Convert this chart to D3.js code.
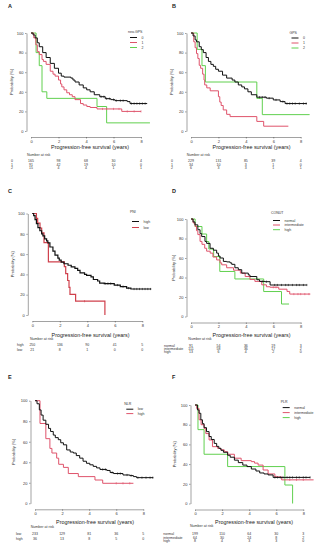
<!DOCTYPE html>
<html>
<head>
<meta charset="utf-8">
<script src="https://cdn.jsdelivr.net/npm/d3@7"></script>
<style>
  body { margin: 0; background: #fff; }
  svg { display: block; font-family: "Liberation Sans", Arial, sans-serif; }
</style>
</head>
<body>
<svg width="320" height="550"></svg>
<script>
// shared ticks
var xTicks = [0, 2, 4, 6, 8];
var yTicks = [0, 20, 40, 60, 80, 100];
var riskTimes = [0, 2, 4, 6, 8];

// A: neo-GPS
var groupsA = ['0', '1', '2'];
var survA0 = [[0,100],[0.15,98],[0.3,95],[0.46,90],[0.6,86],[0.85,80],[1.1,75],[1.4,69],[1.7,64],[2.0,59],[2.2,56],[2.4,55],[2.9,54],[3.05,52],[3.2,50],[3.5,47],[3.8,44],[4.05,42],[4.3,40],[4.6,37],[5.0,35],[5.4,33],[5.8,32],[6.1,31],[7.0,30],[7.2,28],[8.45,28]];
var survA1 = [[0,100],[0.2,95],[0.35,88],[0.46,81],[0.6,78],[0.8,73],[0.9,71],[1.1,68],[1.4,61],[1.6,58],[1.75,56],[2.0,52],[2.15,48],[2.24,45],[2.4,42],[2.6,39],[2.8,37],[3.0,35],[3.2,32],[3.6,28],[3.8,26.5],[4.06,25],[4.3,24],[4.8,22.5],[6.6,20],[8.0,20]];
var survA2 = [[0,100],[0.37,80],[0.6,66.7],[0.8,40],[1.15,33.3],[4.8,25],[5.5,8.3],[8.65,8.3]];
var censA0 = [5.1,5.3,5.5,5.7,6.0,6.2,6.5,6.7,7.3,7.5,7.7,7.9,8.1,8.3];
var censA1 = [5.2,5.5,6.0,6.4,7.0,7.5,8.0];
var riskA = [[165,98,68,30,4],[91,42,19,10,0],[15,4,4,1,1]];

// B: GPS
var groupsB = ['0', '1', '2'];
var survB0 = [[0,100],[0.15,97],[0.3,93],[0.4,91],[0.6,86],[0.75,83],[0.9,80],[1.1,75],[1.27,71],[1.45,68],[1.63,66],[1.8,63],[2.0,61],[2.3,57],[2.6,54],[3.0,52],[3.2,50],[3.45,47],[3.7,45],[3.9,43],[4.15,40],[4.4,37],[4.8,34.5],[5.5,33.5],[6.0,31.7],[6.5,30],[6.86,28],[8.45,28]];
var survB1 = [[0,100],[0.2,91],[0.3,85],[0.4,79],[0.5,74],[0.6,67],[0.7,64],[0.85,58],[0.95,52],[1.0,47],[1.15,44],[1.4,41],[2.0,35],[2.1,29.5],[2.2,26],[2.35,21.5],[2.6,17],[2.85,14.7],[4.8,9.8],[5.3,4.9],[7.1,4.9]];
var survB2 = [[0,100],[0.45,83.3],[0.8,66.7],[1.05,50],[4.8,33.3],[5.2,16.7],[8.65,16.7]];
var censB0 = [5.0,5.2,5.4,5.7,6.2,6.7,7.0,7.2,7.4,7.6,7.9,8.2,8.4];
var censB1 = [];
var riskB = [[229,131,85,39,4],[34,10,3,1,0],[6,3,3,1,1]];

// C: PNI
var groupsC = ['high', 'low'];
var survC0 = [[0,100],[0.1,98],[0.2,94],[0.3,90],[0.41,86],[0.55,83],[0.68,80],[0.77,78],[0.9,75],[1.04,73],[1.13,71],[1.28,67],[1.5,63],[1.65,59],[1.86,56],[1.96,54],[2.1,52],[2.3,50.5],[2.6,49],[2.83,47.5],[3.1,46],[3.3,44],[3.47,41.5],[3.8,40],[3.95,39],[4.27,37.5],[4.44,35],[4.75,33.5],[4.9,31.5],[5.23,31],[5.96,29.5],[6.4,28],[6.86,26.5],[7.17,25.6],[8.65,25.6]];
var survC1 = [[0,100],[0.3,95.2],[0.39,90.5],[0.56,85.7],[0.68,81],[0.85,71.4],[1.17,52.4],[2.33,47.6],[2.43,40.8],[2.57,34],[2.67,27.2],[2.74,20.4],[3.15,13.6],[5.28,0]];
var censC0 = [5.3,5.5,5.7,6.2,6.6,7.0,7.4,7.6,7.8,8.0,8.2,8.4,8.6];
var censC1 = [3.8];
var riskC = [[250,136,90,41,5],[21,8,1,0,0]];

// D: CONUT
var groupsD = ['normal', 'intermediate', 'high'];
var survD0 = [[0,100],[0.15,97],[0.29,94],[0.5,89],[0.66,85],[0.78,82],[1.02,77],[1.14,75],[1.39,70],[1.63,68],[1.87,65],[2.0,62],[2.12,60],[2.36,56.5],[2.6,56],[2.85,55],[2.97,53.5],[3.2,50],[3.45,48],[3.7,44.5],[4.18,42.6],[4.3,41],[4.8,37.7],[5.0,36],[5.4,35.7],[5.77,32.3],[8.45,32.3]];
var survD1 = [[0,100],[0.15,96],[0.29,92.5],[0.4,88],[0.5,84],[0.66,77],[0.8,74],[1.0,70],[1.14,67],[1.4,65],[1.6,61],[1.87,58],[2.12,55],[2.24,53],[2.6,50],[3.1,47.5],[3.6,44.5],[3.95,41],[4.3,38],[4.66,36],[5.16,32.5],[5.5,30.5],[5.77,30],[6.4,28],[7.0,25.7],[7.2,23],[8.7,23]];
var survD2 = [[0,100],[0.3,92.3],[0.8,84.6],[1.14,76.9],[1.3,69.2],[1.65,61.5],[2.1,46.2],[3.2,38.5],[5.3,25.6],[6.6,12.8],[7.15,12.8]];
var censD0 = [5.2,5.5,6.1,6.3,6.6,6.9,7.1,7.4,7.7,7.9,8.2,8.45];
var censD1 = [6.0,6.2,7.5,7.8,8.0,8.3,8.6];
var riskD = [[91,54,36,19,3],[111,58,36,17,2],[13,6,4,2,0]];

// E: NLR
var groupsE = ['low', 'high'];
var survE0 = [[0,100],[0.15,97],[0.32,91],[0.45,86],[0.6,81],[0.8,77],[1.0,73],[1.15,70],[1.35,66.5],[1.5,64],[1.72,62],[1.9,59],[2.1,57],[2.34,52],[2.6,50],[2.83,49],[3.05,46.5],[3.3,44],[3.55,41],[3.8,39],[4.05,37.5],[4.3,36],[4.55,34.5],[4.8,33],[5.3,32],[5.55,30],[5.8,29],[6.5,27.6],[7.0,27],[7.27,26],[7.5,25],[8.74,25]];
var survE1 = [[0,100],[0.37,77.8],[0.8,63],[1.1,53.5],[1.25,49],[1.6,44],[1.75,38],[2.1,35],[2.46,29],[3.2,26],[4.43,22.7],[5.0,19.5],[7.27,19.5]];
var censE0 = [5.0,5.2,5.7,6.1,6.3,6.8,7.1,7.6,7.9,8.2,8.5,8.7];
var censE1 = [6.0,6.5,7.0];
var riskE = [[233,129,81,36,5],[36,13,8,5,0]];

// F: PLR
var groupsF = ['normal', 'intermediate', 'high'];
var survF0 = [[0,100],[0.18,95],[0.3,91.6],[0.43,85],[0.55,81],[0.67,77],[0.85,73],[1.04,68],[1.2,65],[1.42,61],[1.6,58],[1.76,56],[1.92,54],[2.1,52],[2.41,49],[2.6,47],[2.91,44],[3.2,41.5],[3.53,39],[3.84,37.5],[4.16,35],[4.5,33],[4.78,31],[5.1,30],[5.4,29],[5.77,26.5],[8.51,26.5]];
var survF1 = [[0,100],[0.13,96.5],[0.3,85],[0.45,80],[0.67,76],[0.8,71],[1.04,64.5],[1.29,57.7],[1.67,56],[1.9,54.5],[2.16,52.6],[2.41,50],[2.91,46],[3.41,43.5],[4.16,42.5],[4.4,41],[4.66,39],[5.03,34],[5.4,30],[5.9,27],[6.4,24],[8.76,24]];
var survF2 = [[0,100],[0.22,75],[0.67,50],[2.41,37.5],[6.64,18.75],[7.21,0]];
var censF0 = [5.9,6.1,6.3,6.5,6.8,7.0,7.2,7.5,7.7,8.0,8.2,8.5];
var censF1 = [6.0,7.0,7.5,8.0];
var riskF = [[199,110,64,30,3],[64,30,24,8,2],[8,4,3,3,0]];

var colors = ['#111', '#DF536B', '#61D04F'];

var panels = [
  { letter: 'A', lx: 8, ly: 7.5, title: 'neo-GPS', groups: groupsA, surv: [survA0, survA1, survA2], cens: [censA0, censA1, []], risk: riskA,
    x0: 31, x8: 141, y0: 131, y100: 33, ylabX: 13, xlabX: 90, xlabY: 149,
    legX: 128, legY: 33, legRows: [38.5, 43.5, 48.5],
    riskX: 27, riskY: 155.5, riskRows: [162, 165.5, 169], rowLabX: 11 },
  { letter: 'B', lx: 172, ly: 7.5, title: 'GPS', groups: groupsB, surv: [survB0, survB1, survB2], cens: [censB0, censB1, []], risk: riskB,
    x0: 191, x8: 300.7, y0: 131, y100: 33, ylabX: 173, xlabX: 251.5, xlabY: 149,
    legX: 289.5, legY: 33.5, legRows: [39, 44, 49],
    riskX: 186.7, riskY: 155.5, riskRows: [162, 165.5, 169], rowLabX: 171 },
  { letter: 'C', lx: 8, ly: 192.5, title: 'PNI', groups: groupsC, surv: [survC0, survC1], cens: [censC0, censC1], risk: riskC,
    x0: 32.3, x8: 142.3, y0: 315, y100: 213.5, ylabX: 13.5, xlabX: 90.5, xlabY: 336.5,
    legX: 130, legY: 212.5, legRows: [222.5, 228.5],
    riskX: 30, riskY: 339.8, riskRows: [346.4, 351.4], rowLabX: 17, thick: true },
  { letter: 'D', lx: 172, ly: 192.5, title: 'CONUT', groups: groupsD, surv: [survD0, survD1, survD2], cens: [censD0, censD1, []], risk: riskD,
    x0: 191, x8: 300.7, y0: 316.5, y100: 219, ylabX: 175, xlabX: 251.5, xlabY: 336.5,
    legX: 271, legY: 213.5, legRows: [221.5, 226, 230.7],
    riskX: 188.3, riskY: 340.4, riskRows: [346.6, 350, 353.4], rowLabX: 164 },
  { letter: 'E', lx: 8, ly: 378.5, title: 'NLR', groups: groupsE, surv: [survE0, survE1], cens: [censE0, censE1], risk: riskE,
    x0: 35, x8: 143.3, y0: 503.3, y100: 400.7, ylabX: 15, xlabX: 95, xlabY: 523.8,
    legX: 124.3, legY: 404.5, legRows: [410.2, 414.6],
    riskX: 30.7, riskY: 528, riskRows: [534.6, 539.6], rowLabX: 16 },
  { letter: 'F', lx: 172, ly: 378.5, title: 'PLR', groups: groupsF, surv: [survF0, survF1, survF2], cens: [censF0, censF1, []], risk: riskF,
    x0: 195, x8: 303.3, y0: 503.5, y100: 405, ylabX: 175.5, xlabX: 254, xlabY: 523.8,
    legX: 280.7, legY: 403, legRows: [408.6, 413.6, 418.6],
    riskX: 190, riskY: 527.4, riskRows: [534.6, 538.6, 542.3], rowLabX: 163.3 }
];

var svg = d3.select('svg');

function stepValue(curve, t) {
  var v = curve[0][1];
  curve.forEach(function(d) { if (d[0] <= t) v = d[1]; });
  return v;
}

function drawPanel(p) {
  var g = svg.append('g');
  var x = d3.scaleLinear().domain([0, 8]).range([p.x0, p.x8]);
  var y = d3.scaleLinear().domain([0, 100]).range([p.y0, p.y100]);

  // panel letter
  g.append('text').attr('x', p.lx).attr('y', p.ly)
    .attr('font-size', 5.5).attr('font-weight', 'bold').attr('fill', '#222').text(p.letter);

  // axes
  var ya = g.append('g').attr('transform', 'translate(' + (p.x0 - 4.5) + ',0)')
    .call(d3.axisLeft(y).tickValues(yTicks).tickSize(1.5).tickSizeOuter(0).tickPadding(1.5));
  var xa = g.append('g').attr('transform', 'translate(0,' + (p.y0 + 6) + ')')
    .call(d3.axisBottom(x).tickValues(xTicks).tickSize(1.5).tickSizeOuter(0).tickPadding(1.5));
  [ya, xa].forEach(function(a) {
    a.select('.domain').attr('stroke', '#444').attr('stroke-width', 0.5);
    a.selectAll('.tick line').attr('stroke', '#444').attr('stroke-width', 0.5);
    a.selectAll('.tick text').attr('font-size', 4).attr('fill', '#333')
      .attr('font-family', '"Liberation Sans", Arial, sans-serif');
  });

  // axis titles
  g.append('text').attr('transform', 'translate(' + p.ylabX + ',' + ((p.y0 + p.y100) / 2) + ') rotate(-90)')
    .attr('text-anchor', 'middle').attr('font-size', 4).attr('fill', '#333').text('Probability (%)');
  g.append('text').attr('x', p.xlabX).attr('y', p.xlabY).attr('text-anchor', 'middle')
    .attr('font-size', 5.4).attr('fill', '#222').text('Progression-free survival (years)');

  // survival curves
  var line = d3.line().x(function(d) { return x(d[0]); }).y(function(d) { return y(d[1]); })
    .curve(d3.curveStepAfter);
  var order = p.surv.map(function(d, i) { return i; }).reverse();
  order.forEach(function(i) {
    var col = (p.thick && i === 1) ? '#D0404C' : colors[i];
    g.append('path').datum(p.surv[i]).attr('d', line)
      .attr('fill', 'none').attr('stroke', col)
      .attr('stroke-width', p.thick ? 1.2 : 1.0);
    // censor marks
    g.selectAll(null).data(p.cens[i] || []).enter().append('line')
      .attr('x1', function(t) { return x(t); }).attr('x2', function(t) { return x(t); })
      .attr('y1', function(t) { return y(stepValue(p.surv[i], t)) - 1.1; })
      .attr('y2', function(t) { return y(stepValue(p.surv[i], t)) + 1.1; })
      .attr('stroke', col).attr('stroke-width', 0.6);
  });

  // legend
  g.append('text').attr('x', p.legX).attr('y', p.legY).attr('font-size', 3.5).attr('fill', '#333').text(p.title);
  p.groups.forEach(function(name, i) {
    var ry = p.legRows[i];
    g.append('line').attr('x1', p.legX + 2).attr('x2', p.legX + 9)
      .attr('y1', ry - 1).attr('y2', ry - 1)
      .attr('stroke', (p.thick && i === 1) ? '#D0404C' : colors[i]).attr('stroke-width', 1.0);
    g.append('text').attr('x', p.legX + 13.5).attr('y', ry).attr('font-size', 3.5).attr('fill', '#333').text(name);
  });

  // number at risk table
  g.append('text').attr('x', p.riskX).attr('y', p.riskY).attr('font-size', 3.6).attr('fill', '#333').text('Number at risk');
  p.risk.forEach(function(row, i) {
    var ry = p.riskRows[i];
    g.append('text').attr('x', p.rowLabX).attr('y', ry).attr('font-size', 3.5).attr('fill', '#333').text(p.groups[i]);
    g.selectAll(null).data(row).enter().append('text')
      .attr('x', function(d, k) { return x(riskTimes[k]); })
      .attr('y', ry).attr('text-anchor', 'middle').attr('font-size', 3.5).attr('fill', '#333')
      .text(function(d) { return d; });
  });
}

panels.forEach(drawPanel);
</script>
</body>
</html>
